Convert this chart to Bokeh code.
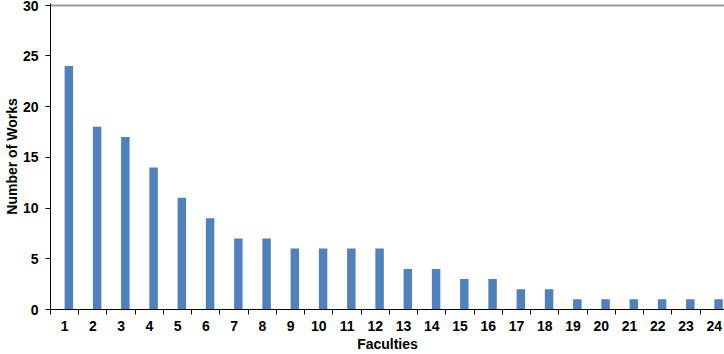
from bokeh.plotting import figure
from bokeh.models import Range1d, FixedTicker, LinearAxis
from bokeh.embed import file_html
from bokeh.resources import INLINE

faculties = list(range(1, 25))
works = [24, 18, 17, 14, 11, 9, 7, 7, 6, 6, 6, 6, 4, 4, 3, 3, 2, 2, 1, 1, 1, 1, 1, 1]
y_ticks = [0, 5, 10, 15, 20, 25, 30]

p = figure(width=724, height=354, output_backend="svg", toolbar_location=None,
           x_range=Range1d(0.5, 24.36), y_range=Range1d(0, 30.15),
           x_axis_location=None,
           min_border_left=0, min_border_right=0, min_border_top=3, min_border_bottom=0)
p.outline_line_color = None
p.background_fill_color = "white"
p.border_fill_color = "white"

xs = [f + 0.15 for f in faculties]
p.vbar(x=xs, top=works, width=0.3, bottom=0, fill_color="#4F81BD", line_color=None)

font = "Liberation Sans"

# axis carrying the tick marks at category boundaries
xa_ticks = LinearAxis(ticker=FixedTicker(ticks=[f - 0.5 for f in faculties] + [24.5]))
xa_ticks.major_tick_out = 5
xa_ticks.major_tick_in = 0
xa_ticks.minor_tick_out = 0
xa_ticks.minor_tick_in = 0
xa_ticks.axis_line_color = "black"
xa_ticks.major_label_text_font_size = "0px"
xa_ticks.major_label_standoff = 0
xa_ticks.major_label_overrides = {f - 0.5: "" for f in faculties + [25]}
p.add_layout(xa_ticks, "below")

# axis carrying the labels at category centres
xa = LinearAxis(ticker=FixedTicker(ticks=faculties))
xa.axis_line_color = None
xa.major_tick_line_color = None
xa.major_tick_out = 0
xa.major_tick_in = 0
xa.minor_tick_out = 0
xa.minor_tick_in = 0
xa.major_label_text_font = font
xa.major_label_text_font_style = "bold"
xa.major_label_text_font_size = "14px"
xa.major_label_text_color = "black"
xa.major_label_standoff = 6
xa.axis_label = "Faculties"
xa.axis_label_text_font = font
xa.axis_label_text_font_style = "bold"
xa.axis_label_text_font_size = "14px"
xa.axis_label_text_color = "black"
xa.axis_label_standoff = 2
p.add_layout(xa, "below")

ya = p.yaxis[0]
ya.ticker = FixedTicker(ticks=y_ticks)
ya.major_tick_out = 5
ya.major_tick_in = 0
ya.minor_tick_out = 0
ya.minor_tick_in = 0
ya.axis_line_color = "black"
ya.major_label_text_font = font
ya.major_label_text_font_style = "bold"
ya.major_label_text_font_size = "14px"
ya.major_label_text_color = "black"
ya.major_label_standoff = 7
ya.axis_label = "Number of Works"
ya.axis_label_text_font = font
ya.axis_label_text_font_style = "bold"
ya.axis_label_text_font_size = "14px"
ya.axis_label_text_color = "black"
ya.axis_label_standoff = 0

p.xgrid.grid_line_color = None
p.ygrid.ticker = FixedTicker(ticks=[30])
p.ygrid.grid_line_color = "#999999"
p.ygrid.grid_line_width = 2

open("out.html", "w").write(file_html(p, INLINE))
